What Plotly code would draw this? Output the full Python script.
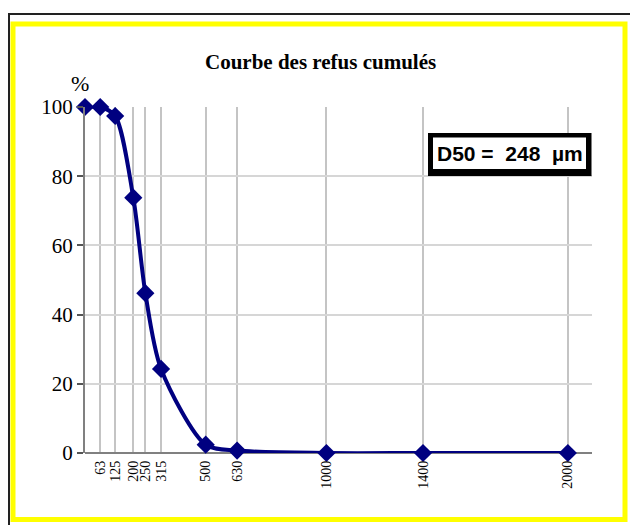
import plotly.graph_objects as go

# Data
sieve_um = [0, 63, 125, 200, 250, 315, 500, 630, 1000, 1400, 2000]
refus_pct = [100, 100, 97.4, 73.8, 46.2, 24.3, 2.4, 0.7, 0, 0, 0]
tick_vals = [63, 125, 200, 250, 315, 500, 630, 1000, 1400, 2000]
tick_text = [str(v) for v in tick_vals]
title_text = "Courbe des refus cumulés"
d50_text = "D50 =  248  µm"

W, H = 630, 525
L, R, T, B = 85, 592, 107, 453  # plot area in px

def px(x):
    return (x - L) / (R - L)

def py(y):
    return (B - y) / (B - T)

fig = go.Figure()
fig.add_trace(go.Scatter(
    x=sieve_um, y=refus_pct, mode="lines+markers",
    line=dict(color="#000080", width=4, shape="spline", smoothing=0.8),
    marker=dict(symbol="diamond", size=14, color="#000080"),
    showlegend=False, cliponaxis=False,
))

shapes = [
    # outer black frame (left and top edges visible)
    dict(type="line", xref="paper", yref="paper", x0=px(9), x1=px(9), y0=py(13), y1=py(530),
         line=dict(color="#222222", width=2), layer="above"),
    dict(type="line", xref="paper", yref="paper", x0=px(8), x1=px(640), y0=py(14), y1=py(14),
         line=dict(color="#222222", width=2), layer="above"),
    # yellow frame
    dict(type="rect", xref="paper", yref="paper", x0=px(13), x1=px(625), y0=py(24), y1=py(519.5),
         line=dict(color="#ffff00", width=5), fillcolor="rgba(0,0,0,0)", layer="below"),
    # D50 box
    dict(type="rect", xref="paper", yref="paper", x0=px(428), x1=px(591.5), y0=py(133), y1=py(176),
         line=dict(width=0), fillcolor="#000000", layer="above"),
    dict(type="rect", xref="paper", yref="paper", x0=px(433), x1=px(586), y0=py(137.5), y1=py(169),
         line=dict(width=0), fillcolor="#ffffff", layer="above"),
]

annotations = [
    dict(text="<b>" + title_text + "</b>", xref="paper", yref="paper", x=px(320), y=py(62),
         showarrow=False, font=dict(family="Liberation Serif", size=21, color="#000000"),
         xanchor="center", yanchor="middle"),
    dict(text="%", xref="paper", yref="paper", x=px(79.5), y=py(83),
         showarrow=False, font=dict(family="Liberation Serif", size=22, color="#000000"),
         xanchor="center", yanchor="middle"),
    dict(text="<b>" + d50_text + "</b>", xref="paper", yref="paper", x=px(509.5), y=py(153.5),
         showarrow=False, font=dict(family="Liberation Sans Narrow, Liberation Sans", size=21, color="#000000"),
         xanchor="center", yanchor="middle"),
]

fig.update_layout(
    width=W, height=H,
    margin=dict(l=L, r=W - R, t=T, b=H - B, pad=0),
    paper_bgcolor="white", plot_bgcolor="white",
    shapes=shapes, annotations=annotations,
    xaxis=dict(
        range=[0, 2100], tickmode="array", tickvals=tick_vals, ticktext=tick_text,
        tickangle=-90, tickfont=dict(family="Liberation Serif", size=14, color="#000000"),
        showgrid=True, gridcolor="#c4c4c4", gridwidth=2,
        showline=False, zeroline=False, ticks="", ticklabelstandoff=4,
    ),
    yaxis=dict(
        range=[0, 100], tickvals=[0, 20, 40, 60, 80, 100],
        tickfont=dict(family="Liberation Serif", size=21, color="#000000"),
        showgrid=True, gridcolor="#d6d6d6", gridwidth=1.5,
        showline=True, linecolor="#808080", linewidth=2,
        ticks="outside", ticklen=6, tickwidth=2, tickcolor="#555555",
        zeroline=True, zerolinecolor="#808080", zerolinewidth=2,
    ),
)

fig.write_html(
    "out.html",
    config={"displayModeBar": False},
    post_script="document.body.style.margin='0';document.body.style.overflow='hidden';",
)
